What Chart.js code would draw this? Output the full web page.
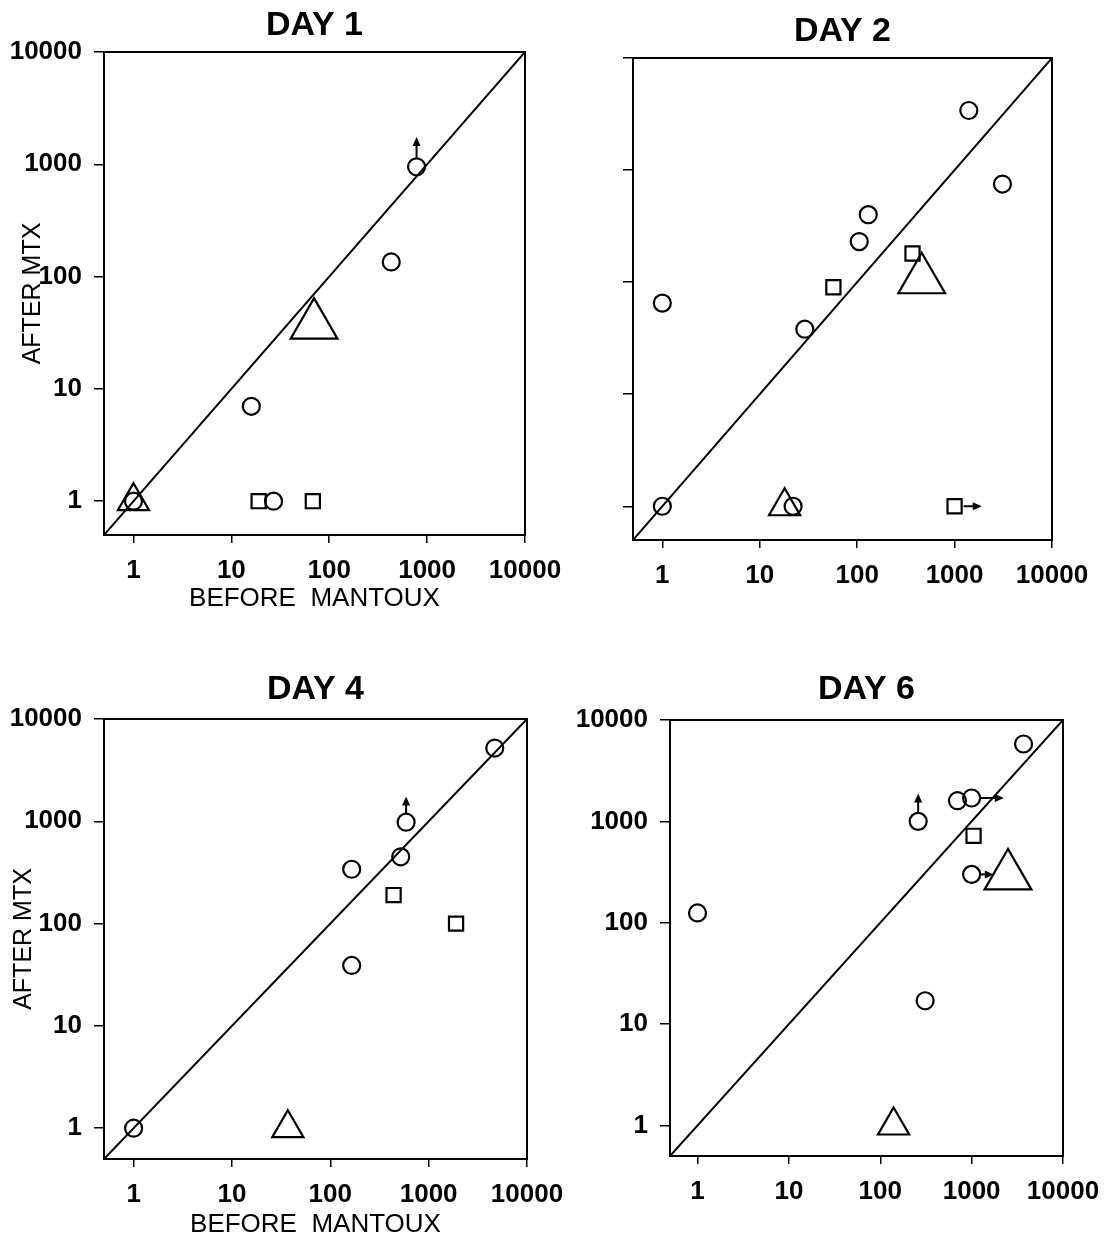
<!DOCTYPE html>
<html>
<head>
<meta charset="utf-8">
<title>Mantoux before / after MTX</title>
<script src="https://cdn.jsdelivr.net/npm/chart.js@4.4.0/dist/chart.umd.min.js"></script>
<style>
  html, body { margin: 0; padding: 0; background: #fff; }
  #page { position: relative; width: 1115px; height: 1240px; overflow: hidden; }
  #page canvas { position: absolute; }
</style>
</head>
<body>
<div id="page">
  <canvas id="day1" width="580" height="620" style="left:0;top:0"></canvas>
  <canvas id="day2" width="555" height="620" style="left:560px;top:0"></canvas>
  <canvas id="day4" width="580" height="620" style="left:0;top:620px"></canvas>
  <canvas id="day6" width="555" height="620" style="left:560px;top:620px"></canvas>
</div>
<script>
// ---- Data (x = before Mantoux, y = after MTX) ----
const tickValues = [1, 10, 100, 1000, 10000];
const diagonalX = [0.5, 10000];
const diagonalY = [0.5, 10000];

const day1Circles = [[780, 950], [430, 135], [16, 7], [27, 1], [1, 1]];
const day1Squares = [[19, 1], [68, 1]];
const day1SmallTriangles = [[1, 1]];
const day1LargeTriangles = [[70, 37]];
const day1Arrows = [[780, 950, 780, 1750]];

const day2Circles = [[1400, 3400], [3100, 750], [130, 400], [105, 230], [1, 65], [29, 38], [1, 1], [22, 1]];
const day2Squares = [[370, 180], [57, 90], [1000, 1]];
const day2SmallTriangles = [[18, 1]];
const day2LargeTriangles = [[460, 105]];
const day2Arrows = [[1000, 1, 1900, 1]];

const day4Circles = [[4700, 5200], [590, 980], [520, 450], [165, 340], [165, 39], [1, 1]];
const day4Squares = [[440, 190], [1900, 100]];
const day4SmallTriangles = [[37, 1]];
const day4LargeTriangles = [];
const day4Arrows = [[590, 980, 590, 1750]];

const day6Circles = [[3700, 5800], [700, 1600], [1000, 1700], [260, 1000], [1000, 300], [1, 125], [310, 17]];
const day6Squares = [[1050, 720]];
const day6SmallTriangles = [[140, 1]];
const day6LargeTriangles = [[2500, 290]];
const day6Arrows = [[260, 1000, 260, 1880], [1000, 1700, 2250, 1700], [1000, 300, 1750, 300]];

// ---- Helpers ----
const FONT = "'Liberation Sans', Arial, sans-serif";
const TITLE_SIZE = 34;
const toPoints = pairs => pairs.map(p => ({ x: p[0], y: p[1] }));

// box round the plot area (top and right sides)
const boxPlugin = {
  id: 'box',
  afterDatasetsDraw(chart) {
    const { ctx, chartArea: a } = chart;
    ctx.save();
    ctx.strokeStyle = '#000';
    ctx.lineWidth = 2;
    ctx.strokeRect(a.left, a.top, a.right - a.left, a.bottom - a.top);
    ctx.restore();
  }
};

function arrowPlugin(arrows) {
  return {
    id: 'arrows',
    afterDatasetsDraw(chart) {
      const { ctx, scales: { x, y } } = chart;
      ctx.save();
      ctx.strokeStyle = '#000';
      ctx.fillStyle = '#000';
      ctx.lineWidth = 2;
      arrows.forEach(([x0, y0, x1, y1]) => {
        const px0 = x.getPixelForValue(x0), py0 = y.getPixelForValue(y0);
        const px1 = x.getPixelForValue(x1), py1 = y.getPixelForValue(y1);
        const ang = Math.atan2(py1 - py0, px1 - px0);
        const c = Math.cos(ang), s = Math.sin(ang);
        ctx.beginPath();
        ctx.moveTo(px0 + c * 9, py0 + s * 9);
        ctx.lineTo(px1 - c * 6, py1 - s * 6);
        ctx.stroke();
        ctx.beginPath();
        ctx.moveTo(px1, py1);
        ctx.lineTo(px1 - c * 9 - s * 4, py1 - s * 9 + c * 4);
        ctx.lineTo(px1 - c * 9 + s * 4, py1 - s * 9 - c * 4);
        ctx.closePath();
        ctx.fill();
      });
      ctx.restore();
    }
  };
}

function markerSet(pairs, style, radius) {
  return {
    data: toPoints(pairs),
    pointStyle: style,
    pointRadius: radius,
    pointHoverRadius: radius,
    pointBorderWidth: 2.2,
    pointBorderColor: '#000',
    pointBackgroundColor: 'rgba(0,0,0,0)',
    clip: false
  };
}

function makePanel(id, p) {
  const canvas = document.getElementById(id);
  const W = canvas.width, H = canvas.height;
  return new Chart(canvas.getContext('2d'), {
    type: 'scatter',
    data: {
      datasets: [
        markerSet(p.circles, 'circle', 8.5),
        markerSet(p.squares, 'rect', 10),
        markerSet(p.smallTriangles, 'triangle', 18),
        markerSet(p.largeTriangles, 'triangle', 27),
        {
          data: diagonalX.map((v, i) => ({ x: v, y: diagonalY[i] })),
          showLine: true,
          borderColor: '#000',
          borderWidth: 2,
          pointRadius: 0,
          fill: false
        }
      ]
    },
    options: {
      responsive: false,
      animation: false,
      events: [],
      layout: { padding: { left: 0, top: 0, right: W - p.area.right, bottom: 0 } },
      scales: {
        x: {
          type: 'logarithmic',
          position: 'bottom',
          min: 0.5,
          max: 10000,
          afterBuildTicks: s => { s.ticks = tickValues.map(v => ({ value: v })); },
          afterFit: s => { s.height = H - p.area.bottom; },
          ticks: {
            autoSkip: false, maxRotation: 0, padding: 12, color: '#000',
            font: { family: FONT, size: 26, weight: 'bold' },
            callback: v => String(v)
          },
          grid: { drawOnChartArea: false, color: '#000', lineWidth: 1.5, tickLength: 8 },
          border: { color: '#000', width: 2 },
          title: {
            display: p.xTitle, text: 'BEFORE  MANTOUX', color: '#000',
            font: { family: FONT, size: 26 },
            padding: { top: 0, bottom: p.xTitlePad }
          }
        },
        y: {
          type: 'logarithmic',
          position: 'left',
          min: 0.5,
          max: 10000,
          afterBuildTicks: s => { s.ticks = tickValues.map(v => ({ value: v })); },
          afterFit: s => { s.width = p.area.left; },
          ticks: {
            display: p.yLabels, autoSkip: false, padding: 12, color: '#000',
            font: { family: FONT, size: 26, weight: 'bold' },
            callback: v => String(v)
          },
          grid: { drawOnChartArea: false, color: '#000', lineWidth: 1.5, tickLength: 10 },
          border: { color: '#000', width: 2 },
          title: {
            display: p.yTitle, text: 'AFTER MTX', color: '#000',
            font: { family: FONT, size: 25 },
            padding: { top: p.yTitlePad, bottom: 0 }
          }
        }
      },
      plugins: {
        legend: { display: false },
        tooltip: { enabled: false },
        title: {
          display: true, text: p.title, color: '#000', fullSize: false,
          font: { family: FONT, size: TITLE_SIZE, weight: 'bold' },
          padding: { top: p.titleTop, bottom: p.area.top - TITLE_SIZE * 1.2 - p.titleTop }
        }
      }
    },
    plugins: [boxPlugin, arrowPlugin(p.arrows)]
  });
}

// ---- Panels ----
makePanel('day1', {
  title: 'DAY 1', titleTop: 5,
  area: { left: 104, right: 525, top: 52, bottom: 535 },
  circles: day1Circles, squares: day1Squares,
  smallTriangles: day1SmallTriangles, largeTriangles: day1LargeTriangles, arrows: day1Arrows,
  xTitle: true, xTitlePad: 6, yTitle: true, yTitlePad: 18, yLabels: true
});

makePanel('day2', {
  title: 'DAY 2', titleTop: 11,
  area: { left: 73, right: 492, top: 58, bottom: 540 },
  circles: day2Circles, squares: day2Squares,
  smallTriangles: day2SmallTriangles, largeTriangles: day2LargeTriangles, arrows: day2Arrows,
  xTitle: false, xTitlePad: 0, yTitle: false, yTitlePad: 0, yLabels: false
});

makePanel('day4', {
  title: 'DAY 4', titleTop: 49,
  area: { left: 104, right: 527, top: 99, bottom: 539 },
  circles: day4Circles, squares: day4Squares,
  smallTriangles: day4SmallTriangles, largeTriangles: day4LargeTriangles, arrows: day4Arrows,
  xTitle: true, xTitlePad: 0, yTitle: true, yTitlePad: 9, yLabels: true
});

makePanel('day6', {
  title: 'DAY 6', titleTop: 49,
  area: { left: 110, right: 503, top: 100, bottom: 536 },
  circles: day6Circles, squares: day6Squares,
  smallTriangles: day6SmallTriangles, largeTriangles: day6LargeTriangles, arrows: day6Arrows,
  xTitle: false, xTitlePad: 0, yTitle: false, yTitlePad: 0, yLabels: true
});
</script>
</body>
</html>
